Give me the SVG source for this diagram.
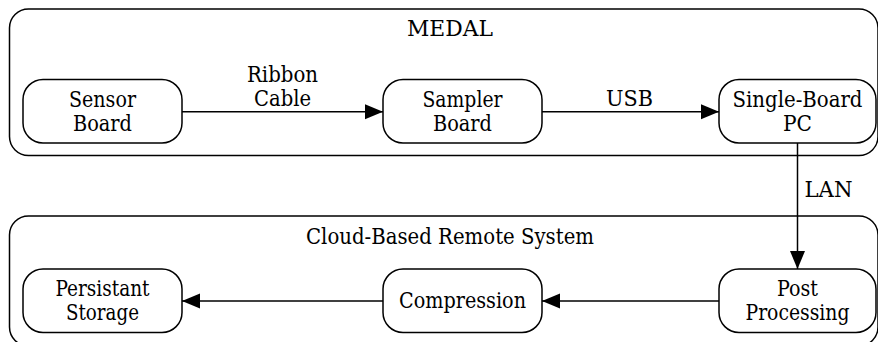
<svg xmlns="http://www.w3.org/2000/svg" width="878" height="342" viewBox="0 0 878 342">
<style>
text{font-family:'DejaVu Serif','Liberation Serif',serif;font-size:22px;fill:#000;text-anchor:middle}
.cl{fill:none;stroke:#000;stroke-width:1.5}
.nd{fill:#fff;stroke:#000;stroke-width:1.5}
.ed{fill:none;stroke:#000;stroke-width:1.5}
</style>
<defs>
<marker id="ah" markerUnits="userSpaceOnUse" markerWidth="19" markerHeight="16" refX="18" refY="7.5" orient="auto">
<path d="M0,0 L18,7.5 L0,15 Z" fill="#000"/>
</marker>
</defs>
<g id="cluster_medal">
<rect class="cl" x="9.5" y="9" width="868.5" height="146.5" rx="19" ry="19"/>
<text x="450" y="36" textLength="86" lengthAdjust="spacingAndGlyphs">MEDAL</text>
</g>
<g id="cluster_cloud">
<rect class="cl" x="9.5" y="216" width="868.5" height="130" rx="19" ry="19"/>
<text x="450" y="243.5" textLength="288" lengthAdjust="spacingAndGlyphs">Cloud-Based Remote System</text>
</g>
<g id="connectors">
<path class="ed" d="M182,111.7 L383,111.7" marker-end="url(#ah)"/>
<path class="ed" d="M542,111.7 L719,111.7" marker-end="url(#ah)"/>
<path class="ed" d="M797.5,143 L797.5,269" marker-end="url(#ah)"/>
<path class="ed" d="M719,301 L542,301" marker-end="url(#ah)"/>
<path class="ed" d="M383,301 L182,301" marker-end="url(#ah)"/>
<text x="282.5" y="82" textLength="71" lengthAdjust="spacingAndGlyphs">Ribbon</text>
<text x="282.5" y="106" textLength="57" lengthAdjust="spacingAndGlyphs">Cable</text>
<text x="629.5" y="106" textLength="47" lengthAdjust="spacingAndGlyphs">USB</text>
<text x="804.5" y="197" style="text-anchor:start" textLength="48" lengthAdjust="spacingAndGlyphs">LAN</text>
</g>
<g id="sensor_board">
<rect class="nd" x="23" y="79.5" width="159" height="63.5" rx="20" ry="20"/>
<text x="102.5" y="106.5" textLength="67" lengthAdjust="spacingAndGlyphs">Sensor</text>
<text x="102.5" y="130.5" textLength="59" lengthAdjust="spacingAndGlyphs">Board</text>
</g>
<g id="sampler_board">
<rect class="nd" x="383" y="79.5" width="159" height="63.5" rx="20" ry="20"/>
<text x="462.5" y="106.5" textLength="80" lengthAdjust="spacingAndGlyphs">Sampler</text>
<text x="462.5" y="130.5" textLength="59" lengthAdjust="spacingAndGlyphs">Board</text>
</g>
<g id="single_board_pc">
<rect class="nd" x="719" y="79.5" width="157" height="63.5" rx="20" ry="20"/>
<text x="797.5" y="106.5" textLength="130" lengthAdjust="spacingAndGlyphs">Single-Board</text>
<text x="797.5" y="130.5" textLength="29" lengthAdjust="spacingAndGlyphs">PC</text>
</g>
<g id="persistent_storage">
<rect class="nd" x="23" y="269" width="159" height="63.5" rx="20" ry="20"/>
<text x="102.5" y="296" textLength="94" lengthAdjust="spacingAndGlyphs">Persistant</text>
<text x="102.5" y="320" textLength="73" lengthAdjust="spacingAndGlyphs">Storage</text>
</g>
<g id="compression">
<rect class="nd" x="383" y="269" width="159" height="63.5" rx="20" ry="20"/>
<text x="462.5" y="308" textLength="127" lengthAdjust="spacingAndGlyphs">Compression</text>
</g>
<g id="post_processing">
<rect class="nd" x="719" y="269" width="157" height="63.5" rx="20" ry="20"/>
<text x="797.5" y="296" textLength="41" lengthAdjust="spacingAndGlyphs">Post</text>
<text x="797.5" y="320" textLength="104" lengthAdjust="spacingAndGlyphs">Processing</text>
</g>
</svg>
